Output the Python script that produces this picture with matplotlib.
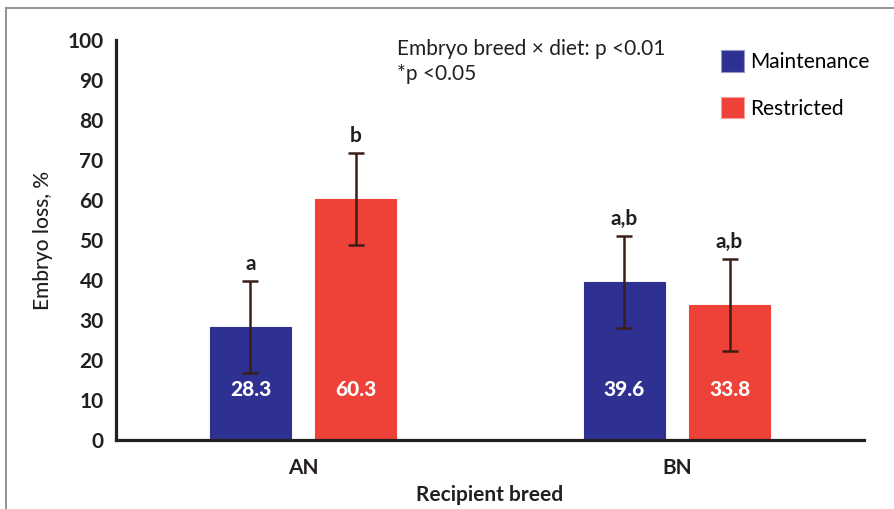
import matplotlib.pyplot as plt
from matplotlib.lines import Line2D
import numpy as np

plt.rcParams['font.family'] = ['Lato', 'DejaVu Sans']

breeds = ['AN', 'BN']
maintenance = [28.3, 39.6]
restricted = [60.3, 33.8]
maintenance_err = [11.5, 11.5]
restricted_err = [11.5, 11.5]
maintenance_letters = ['a', 'a,b']
restricted_letters = ['b', 'a,b']

blue = '#2E3192'
red = '#EE4137'
err_color = '#3B1F17'
ink = '#231F20'

fig = plt.figure(figsize=(8.95, 5.09), dpi=100)
ax = fig.add_axes([116 / 895, 1 - 440 / 509, (864 - 116) / 895, 400 / 509])

x = np.arange(len(breeds))
width = 0.217
offset = 0.1406

groups = [
    (x - offset, maintenance, maintenance_err, maintenance_letters, blue, 'Maintenance'),
    (x + offset, restricted, restricted_err, restricted_letters, red, 'Restricted'),
]
for pos, vals, errs, letters, color, label in groups:
    ax.bar(pos, vals, width, color=color, edgecolor=color, linewidth=0.8,
           label=label, zorder=2)
    ax.errorbar(pos, vals, yerr=errs, fmt='none', ecolor=err_color,
                elinewidth=1.8, capsize=5.8, capthick=1.8, zorder=3)
    for xi, v, e, let in zip(pos, vals, errs, letters):
        ax.text(xi, 12.75, f'{v:.1f}', ha='center', va='center',
                color='white', fontsize=15, fontweight='black', zorder=4)
        ax.text(xi, v + e + 2.6, let, ha='center', va='baseline',
                color=ink, fontsize=15, fontweight='bold')

ax.set_xlim(-0.5, 1.5)
ax.set_ylim(0, 100)
ax.set_yticks(range(0, 101, 10))
ax.set_xticks(x)
ax.set_xticklabels(breeds)
ax.tick_params(length=0, labelsize=15, colors=ink)
ax.tick_params(axis='y', pad=9)
ax.tick_params(axis='x', pad=13)
for lab in ax.get_xticklabels() + ax.get_yticklabels():
    lab.set_fontweight('bold')

for side in ['top', 'right']:
    ax.spines[side].set_visible(False)
for side in ['left', 'bottom']:
    ax.spines[side].set_linewidth(2.3)
    ax.spines[side].set_color(ink)

ax.set_xlabel('Recipient breed', fontsize=15, fontweight='bold',
              color=ink, labelpad=5)
ax.set_ylabel('Embryo loss, %', fontsize=15, fontweight='medium',
              color=ink, labelpad=10)

ax.text(397 / 895, 1 - 61.5 / 509, 'Embryo breed × diet: p <0.01\n*p <0.05',
        transform=fig.transFigure, ha='left', va='center', fontsize=15,
        color=ink, linespacing=1.3)

leg = ax.legend(loc='upper left', bbox_to_anchor=(711 / 895, 1 - 40 / 509),
                bbox_transform=fig.transFigure, frameon=False, fontsize=15,
                handlelength=1.1, handleheight=1.2, handletextpad=0.3,
                labelspacing=1.2, borderpad=0)
for h in leg.legend_handles:
    h.set_edgecolor('#9a9ac8' if h.get_facecolor()[2] > 0.3 else '#f5a09a')

# figure frame (top and left edges)
fig.add_artist(Line2D([6 / 895, 1], [1 - 8 / 509, 1 - 8 / 509],
                      transform=fig.transFigure, color='#8a8a8a', lw=1.3))
fig.add_artist(Line2D([6 / 895, 6 / 895], [0, 1 - 8 / 509],
                      transform=fig.transFigure, color='#8a8a8a', lw=1.3))

fig.savefig('out.png', dpi=100)
plt.close()
